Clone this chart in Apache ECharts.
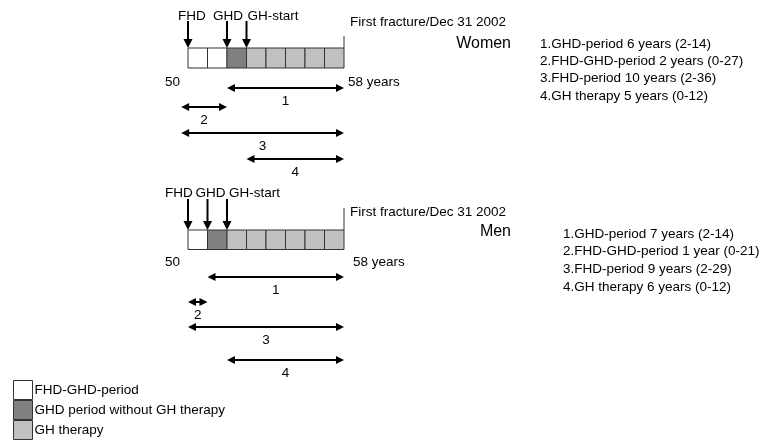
<!DOCTYPE html>
<html>
<head>
<meta charset="utf-8">
<script src="https://cdn.jsdelivr.net/npm/echarts@6/dist/echarts.min.js"></script>
<style>
html, body { margin: 0; background: #fff; }
#chart { width: 762px; height: 444px; }
</style>
</head>
<body>
<div id="chart"></div>
<script>
// ages covered by the bars
const startAge = 50
const endAge = 58

// kind of each one-year cell, index into cellKinds
const cellKinds = ['FHD-GHD-period', 'GHD period without GH therapy', 'GH therapy']
const womenCells = [0, 0, 1, 2, 2, 2, 2, 2]
const menCells = [0, 1, 2, 2, 2, 2, 2, 2]

// event markers above the bars
const markerNames = ['FHD', 'GHD', 'GH-start']
const womenMarkers = [50, 52, 53]
const menMarkers = [50, 51, 52]

// numbered periods (double arrows)
const spanNames = ['1', '2', '3', '4']
const womenSpanFrom = [52, 49.65, 49.65, 53]
const womenSpanTo = [58, 52, 58, 58]
const menSpanFrom = [51, 50, 50, 52]
const menSpanTo = [58, 51, 58, 58]

const groupNames = ['Women', 'Men']
const endNote = 'First fracture/Dec 31 2002'
const womenNotes = [
    '1.GHD-period 6 years (2-14)',
    '2.FHD-GHD-period 2 years (0-27)',
    '3.FHD-period 10 years (2-36)',
    '4.GH therapy 5 years (0-12)',
]
const menNotes = [
    '1.GHD-period 7 years (2-14)',
    '2.FHD-GHD-period 1 year (0-21)',
    '3.FHD-period 9 years (2-29)',
    '4.GH therapy 6 years (0-12)',
]

// ---- layout / style ----
const FONT = '"Liberation Sans", Arial, sans-serif'
const FS = 13.5
const cellColors = ['#ffffff', '#808080', '#c0c0c0']
const panels = [
    {
        boxTop: 48, boxBottom: 68, arrowTop: 21, labelY: 16, labelDx: [-10, -14, 1],
        tickTop: 36, noteY: 22, sexY: 44, ageY: 82, endDx: 4,
        spanY: [88, 107, 133, 159], notesX: 540, notesY: 45, notesStep: 17.3,
    },
    {
        boxTop: 230, boxBottom: 249.5, arrowTop: 199, labelY: 193, labelDx: [-23, -12, 2],
        tickTop: 208, noteY: 212, sexY: 232, ageY: 262, endDx: 9,
        spanY: [277, 302, 327, 360], notesX: 563, notesY: 235, notesStep: 17.7,
    },
]

const cellsByPanel = [womenCells, menCells]
const markersByPanel = [womenMarkers, menMarkers]
const spansByPanel = [[womenSpanFrom, womenSpanTo], [menSpanFrom, menSpanTo]]
const notesByPanel = [womenNotes, menNotes]

const text = (x, y, str, align, extra) => ({
    type: 'text',
    style: Object.assign({
        x, y, text: str, align: align || 'left', verticalAlign: 'middle',
        fontFamily: FONT, fontSize: FS, fill: '#000',
    }, extra || {}),
})

const cellSeries = cellKinds.map((name, k) => {
    let data = []
    cellsByPanel.forEach((cells, p) => {
        cells.forEach((kind, i) => {
            if (kind === k) data.push([startAge + i, p])
        })
    })
    return {
        name,
        type: 'custom',
        itemStyle: {color: cellColors[k], borderColor: '#333', borderWidth: 1},
        data,
        renderItem: (params, api) => {
            const p = panels[api.value(1)]
            const a = api.coord([api.value(0), p.boxTop])
            const b = api.coord([api.value(0) + 1, p.boxBottom])
            return {
                type: 'rect',
                shape: {x: a[0], y: a[1], width: b[0] - a[0], height: b[1] - a[1]},
                style: {fill: cellColors[k], stroke: '#333', lineWidth: 1},
            }
        },
    }
})

let markerData = []
markersByPanel.forEach((ages, p) => ages.forEach((age, i) => markerData.push([age, p, i])))

let spanData = []
spansByPanel.forEach(([from, to], p) => from.forEach((f, i) => spanData.push([f, to[i], p, i])))

const option = {
    animation: false,
    backgroundColor: '#fff',
    grid: {left: 188, right: 418, top: 0, bottom: 0},
    xAxis: {type: 'value', min: startAge, max: endAge, show: false},
    yAxis: {type: 'value', min: 0, max: 444, inverse: true, show: false},
    legend: {
        orient: 'vertical',
        left: 13,
        top: 380,
        height: 64,
        padding: 0,
        itemGap: 0,
        itemWidth: 19,
        itemHeight: 19,
        icon: 'rect',
        selectedMode: false,
        data: cellKinds.map((name, k) => ({
            name,
            itemStyle: {color: cellColors[k], borderColor: '#333', borderWidth: 1},
        })),
        textStyle: {
            fontFamily: FONT, fontSize: FS, color: '#000',
            lineHeight: 14, padding: [5, 0, 0, -3],
        },
    },
    graphic: notesByPanel.flatMap((notes, p) => notes.map((str, i) => ({
        type: 'text',
        left: panels[p].notesX,
        top: panels[p].notesY + i * panels[p].notesStep - 8,
        style: {text: str, fontFamily: FONT, fontSize: FS, fill: '#000'},
    }))),
    series: [
        ...cellSeries,
        {
            type: 'custom',
            data: [[startAge, 0], [startAge, 1]],
            renderItem: (params, api) => {
                const pi = api.value(1)
                const p = panels[pi]
                const s = api.coord([startAge, p.ageY])
                const e = api.coord([endAge, p.ageY])
                const t = api.coord([endAge, p.tickTop])
                return {
                    type: 'group',
                    children: [
                        text(s[0] - 8, s[1], String(startAge), 'right'),
                        text(e[0] + p.endDx, e[1], endAge + ' years'),
                        {
                            type: 'line',
                            shape: {x1: t[0], y1: t[1], x2: t[0], y2: p.boxTop},
                            style: {stroke: '#333', lineWidth: 1},
                        },
                        text(e[0] + 6, p.noteY, endNote),
                        text(511, p.sexY, groupNames[pi], 'right', {fontSize: 16}),
                    ],
                }
            },
        },
        {
            type: 'custom',
            data: markerData,
            renderItem: (params, api) => {
                const p = panels[api.value(1)]
                const i = api.value(2)
                const [x, top] = api.coord([api.value(0), p.arrowTop])
                const bottom = p.boxTop
                return {
                    type: 'group',
                    children: [
                        {
                            type: 'line',
                            shape: {x1: x, y1: top, x2: x, y2: bottom - 7},
                            style: {stroke: '#000', lineWidth: 2},
                        },
                        {
                            type: 'polygon',
                            shape: {points: [[x - 4.5, bottom - 9], [x + 4.5, bottom - 9], [x, bottom]]},
                            style: {fill: '#000'},
                        },
                        text(x + p.labelDx[i], p.labelY, markerNames[i]),
                    ],
                }
            },
        },
        {
            type: 'custom',
            data: spanData,
            renderItem: (params, api) => {
                const p = panels[api.value(2)]
                const i = api.value(3)
                const y = p.spanY[i]
                const [x1] = api.coord([api.value(0), y])
                const [x2] = api.coord([api.value(1), y])
                const hl = 8, hw = 4
                return {
                    type: 'group',
                    children: [
                        {
                            type: 'line',
                            shape: {x1: x1 + 4, y1: y, x2: x2 - 4, y2: y},
                            style: {stroke: '#000', lineWidth: 2},
                        },
                        {
                            type: 'polygon',
                            shape: {points: [[x1, y], [x1 + hl, y - hw], [x1 + hl, y + hw]]},
                            style: {fill: '#000'},
                        },
                        {
                            type: 'polygon',
                            shape: {points: [[x2, y], [x2 - hl, y - hw], [x2 - hl, y + hw]]},
                            style: {fill: '#000'},
                        },
                        text((x1 + x2) / 2, y + 13, spanNames[i], 'center'),
                    ],
                }
            },
        },
    ],
}

const chart = echarts.init(document.getElementById('chart'))
chart.setOption(option)
</script>
</body>
</html>
